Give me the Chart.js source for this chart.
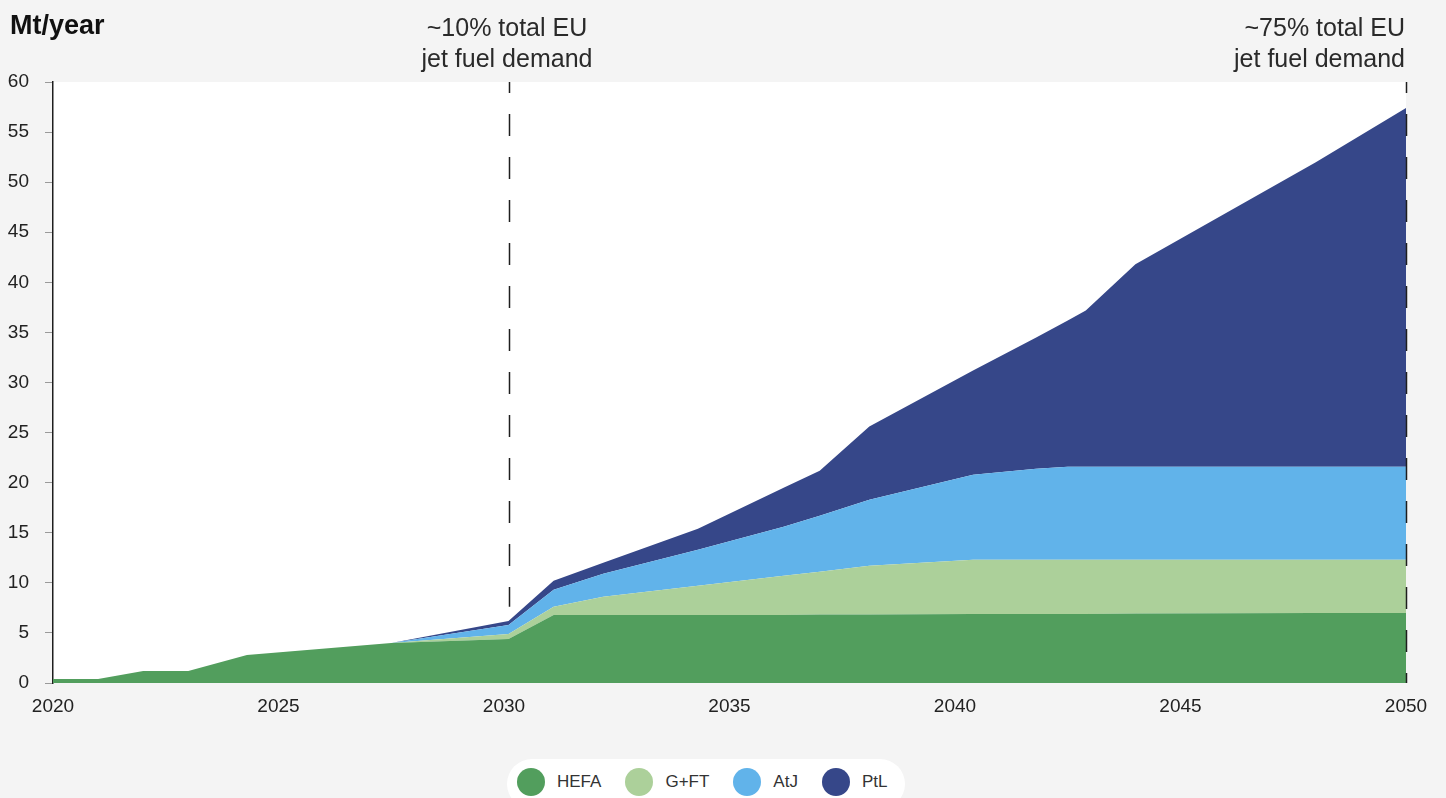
<!DOCTYPE html>
<html>
<head>
<meta charset="utf-8">
<script src="https://cdn.jsdelivr.net/npm/chart.js@4"></script>
<style>
	body { margin: 0; background: #f4f4f4; font-family: "Liberation Sans", Arial, sans-serif; }
	#wrap { position: relative; width: 1446px; height: 798px; overflow: hidden; }
	#chartCanvas { position: absolute; left: 0; top: 0; }
	.unit { position: absolute; left: 10px; top: 12px; font-size: 27px; line-height: 26px; font-weight: bold; color: #111; }
	.note { position: absolute; top: 12px; font-size: 25px; line-height: 31px; color: #2a2a2a; }
	#legend { position: absolute; left: 507px; top: 759px; height: 50px; padding: 9px 0 0 10px; box-sizing: border-box;
		width: 398px; background: #fff; border-radius: 25px; display: flex; }
	.item { display: flex; align-items: center; height: 28px; margin-right: 24px; font-size: 17px; color: #333; }
	.dot { width: 28px; height: 28px; border-radius: 50%; margin-right: 12px; }
</style>
</head>
<body>
<div id="wrap">
	<div style="position:absolute;left:0;top:0;width:1446px;height:798px"><canvas id="chartCanvas"></canvas></div>
	<div class="unit">Mt/year</div>
	<div class="note" style="left:357px;width:300px;text-align:center">~10% total EU<br>jet fuel demand</div>
	<div class="note" style="right:41px;text-align:right">~75% total EU<br>jet fuel demand</div>
	<div id="legend"></div>
</div>
<script>
// years where the outline changes slope
const years = [2020, 2021, 2022, 2023, 2024.3, 2027.5, 2030.1, 2031.1, 2032.2, 2034.3, 2036.2, 2037, 2038.1, 2040.4, 2041.8, 2042.5, 2042.9, 2044, 2048, 2050]

// Mt/year per pathway (stacked)
const hefa = [0.4, 0.4, 1.2, 1.2, 2.8, 4.0, 4.4, 6.8, 6.8, 6.8, 6.8, 6.85, 6.85, 6.9, 6.9, 6.9, 6.9, 6.95, 7.0, 7.0]
const gft  = [0, 0, 0, 0, 0, 0, 0.5, 0.8, 1.8, 2.9, 3.9, 4.25, 4.85, 5.4, 5.4, 5.4, 5.4, 5.35, 5.3, 5.3]
const atj  = [0, 0, 0, 0, 0, 0, 0.9, 1.7, 2.3, 3.6, 4.9, 5.6, 6.6, 8.5, 9.1, 9.3, 9.3, 9.3, 9.3, 9.3]
const ptl  = [0, 0, 0, 0, 0, 0, 0.4, 0.9, 1.1, 2.1, 3.9, 4.5, 7.3, 10.4, 13.1, 14.6, 15.6, 20.2, 30.4, 35.8]

const seriesNames = ['HEFA', 'G+FT', 'AtJ', 'PtL']
const seriesColors = ['#529e5d', '#acd09a', '#61b3ea', '#364789']

// dashed markers: [year, value where the line stops]
const markerYears = [2030.1, 2050]
const markerEnds = [7.6, 0]

const tickFont = { family: 'Liberation Sans', size: 19 }

const plotBg = {
	id: 'plotBg',
	beforeDraw(chart) {
		const { ctx, chartArea: a } = chart
		ctx.save()
		ctx.fillStyle = '#fff'
		ctx.fillRect(a.left, a.top, a.right - a.left, a.bottom - a.top)
		ctx.restore()
	},
}

const markers = {
	id: 'markers',
	afterDatasetsDraw(chart) {
		const { ctx, chartArea: a, scales } = chart
		ctx.save()
		ctx.strokeStyle = '#1e1e1e'
		ctx.lineWidth = 1.5
		ctx.setLineDash([22, 21])
		ctx.lineDashOffset = 11
		for (let i = 0; i < markerYears.length; i++) {
			let x = Math.round(scales.x.getPixelForValue(markerYears[i])) + 0.5
			let yEnd = scales.y.getPixelForValue(markerEnds[i])
			ctx.beginPath()
			ctx.moveTo(x, a.top)
			ctx.lineTo(x, yEnd)
			ctx.stroke()
		}
		ctx.restore()
	},
}

function points(vals) {
	return years.map((x, i) => ({ x: x, y: vals[i] }))
}

const values = [hefa, gft, atj, ptl]
const datasets = values.map((v, i) => ({
	label: seriesNames[i],
	data: points(v),
	fill: i === 0 ? 'origin' : '-1',
	backgroundColor: seriesColors[i],
	borderColor: 'transparent',
	borderWidth: 0,
	pointRadius: 0,
	tension: 0,
}))

new Chart(document.getElementById('chartCanvas'), {
	type: 'line',
	data: { datasets: datasets },
	options: {
		animation: false,
		responsive: true,
		maintainAspectRatio: false,
		layout: { padding: { top: 82, right: 40, bottom: 75, left: 0 } },
		plugins: {
			legend: { display: false },
			tooltip: { enabled: false },
		},
		scales: {
			x: {
				type: 'linear',
				min: 2020,
				max: 2050,
				afterFit(scale) { scale.height = 40 },
				ticks: { stepSize: 5, padding: 12, color: '#222', font: tickFont, maxRotation: 0,
					callback: (v) => String(v) },
				grid: { display: false, drawTicks: false },
				border: { display: false },
			},
			y: {
				stacked: true,
				min: 0,
				max: 60,
				afterFit(scale) { scale.width = 53 },
				ticks: { stepSize: 5, padding: 16, color: '#222', font: tickFont },
				grid: { drawOnChartArea: false, tickLength: 8, color: '#9a9a9a' },
				border: { color: '#1e1e1e', width: 1.5 },
			},
		},
	},
	plugins: [plotBg, markers],
})

// legend pill
const legend = document.getElementById('legend')
for (let i = 0; i < seriesNames.length; i++) {
	let item = document.createElement('div')
	item.className = 'item'
	item.innerHTML = '<span class="dot" style="background:' + seriesColors[i] + '"></span>' + seriesNames[i]
	legend.appendChild(item)
}
</script>
</body>
</html>
